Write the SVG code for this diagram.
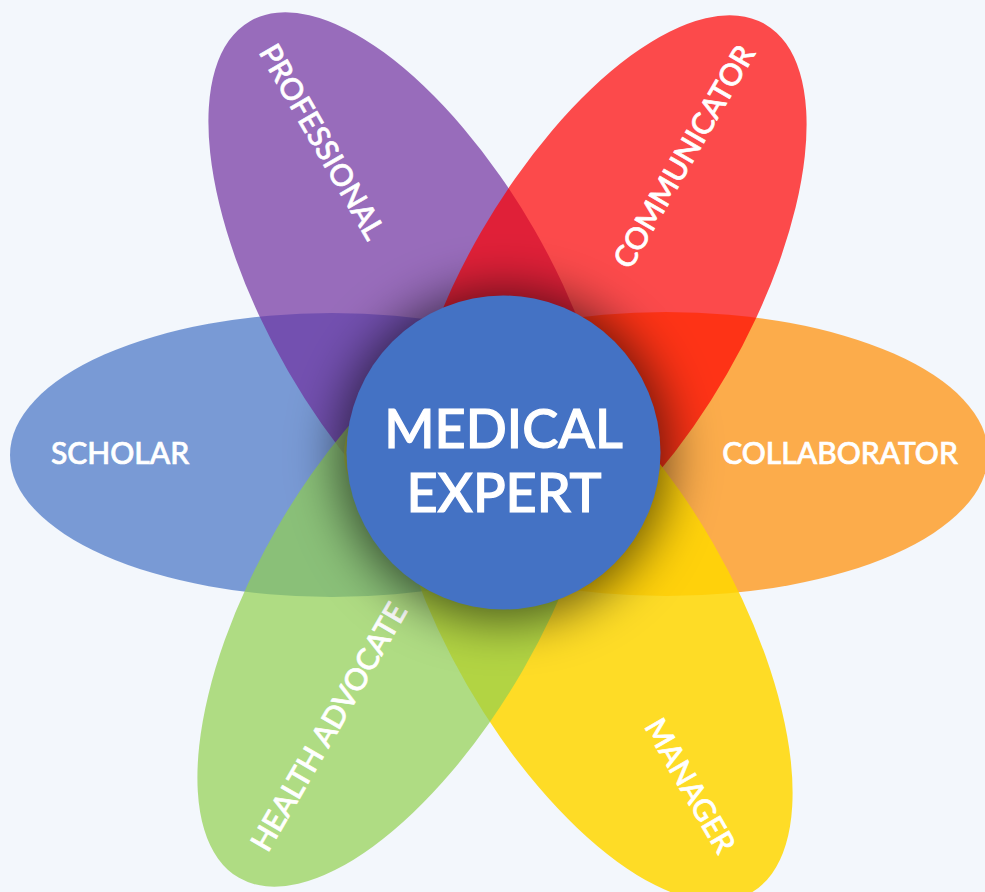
<svg xmlns="http://www.w3.org/2000/svg" width="985" height="892" viewBox="0 0 985 892">
  <style>
    .petal { stroke: none; }
    .lbl { font-family: Lato, "Open Sans", "Liberation Sans", sans-serif; font-weight: 500; font-size: 30px; fill: #ffffff; stroke: #ffffff; stroke-width: 0.7px; text-anchor: middle; }
    .ctr { font-family: Lato, "Open Sans", "Liberation Sans", sans-serif; font-weight: 500; font-size: 54px; fill: #ffffff; stroke: #ffffff; stroke-width: 1.2px; text-anchor: middle; }
  </style>
  <defs>
    <filter id="shadow" x="-60%" y="-60%" width="220%" height="220%">
      <feGaussianBlur stdDeviation="25"/>
    </filter>
  </defs>
  <rect x="0" y="0" width="985" height="892" fill="#F3F7FC"/>

  <g id="scholar">
    <ellipse class="petal" cx="332" cy="455" rx="322" ry="142" fill="#4472C4" fill-opacity="0.7"/>
  </g>
  <g id="professional">
    <ellipse class="petal" cx="411" cy="300" rx="322" ry="142" fill="#7030A0" fill-opacity="0.7" transform="rotate(60 411 300)"/>
  </g>
  <g id="collaborator">
    <ellipse class="petal" cx="666" cy="454" rx="322" ry="142" fill="#FF8C00" fill-opacity="0.7"/>
  </g>
  <g id="communicator">
    <ellipse class="petal" cx="604" cy="303" rx="322" ry="142" fill="#FF0000" fill-opacity="0.7" transform="rotate(-60 604 303)"/>
  </g>
  <g id="manager">
    <ellipse class="petal" cx="590" cy="614" rx="322" ry="142" fill="#FFD700" fill-opacity="0.85" transform="rotate(60 590 614)"/>
  </g>
  <g id="health-advocate">
    <ellipse class="petal" cx="400" cy="599" rx="322" ry="142" fill="#92D050" fill-opacity="0.7" transform="rotate(-60 400 599)"/>
  </g>

  <g id="petal-labels">
    <text class="lbl" x="120" y="464">SCHOLAR</text>
    <text class="lbl" x="840" y="464">COLLABORATOR</text>
    <text class="lbl" transform="translate(313 147) rotate(60)">PROFESSIONAL</text>
    <text class="lbl" transform="translate(693 162) rotate(-60)">COMMUNICATOR</text>
    <text class="lbl" transform="translate(338 732) rotate(-60)">HEALTH ADVOCATE</text>
    <text class="lbl" transform="translate(681 791) rotate(60)">MANAGER</text>
  </g>

  <g id="medical-expert">
    <circle cx="503.5" cy="455" r="165" fill="#000000" fill-opacity="0.6" filter="url(#shadow)"/>
    <circle cx="503.5" cy="452.5" r="157" fill="#4472C4"/>
    <text class="ctr" x="503.5" y="448">MEDICAL</text>
    <text class="ctr" x="504" y="512">EXPERT</text>
  </g>
</svg>
